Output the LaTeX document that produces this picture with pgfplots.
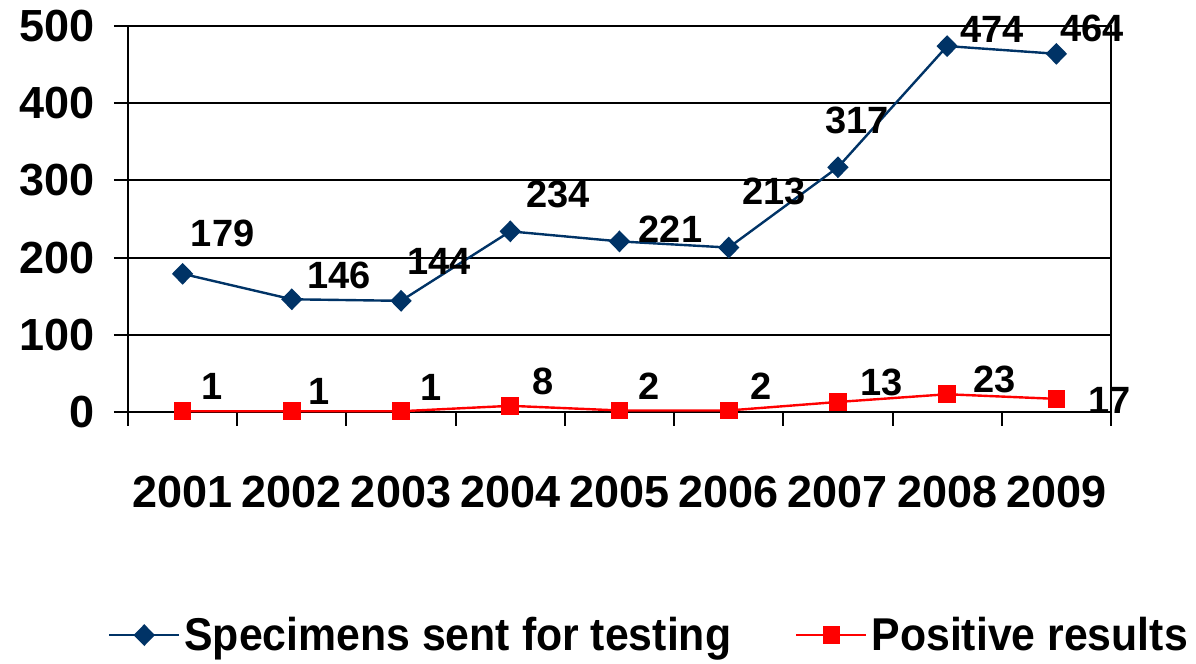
\documentclass[border=0pt]{standalone}
\usepackage{pgfplots}
\pgfplotsset{compat=1.18}
\usepackage{fontspec}
\setmainfont{Liberation Sans}
\newfontfamily\legfont[FakeStretch=0.93]{Liberation Sans}
\definecolor{navy}{HTML}{003366}
\definecolor{pred}{HTML}{FF0000}

\pgfplotstableread{
x y dx dy
1 179 20 20
2 146 23.5 12
3 144 19 19.5
4 234 24 18.5
5 221 25.5 6
6 213 22.5 28
7 317 9.5 23.5
8 474 22.5 8.5
9 464 18 12.5
}\spec
\pgfplotstableread{
x y dx dy
1 1 14.5 12.5
2 1 13.5 10
3 1 15 12
4 8 16.5 12
5 2 15 12
6 2 16 12
7 13 22 10
8 23 23.5 7.5
9 17 26.5 -1
}\posres

\begin{document}
\begin{tikzpicture}
\useasboundingbox (0,0) rectangle (598pt,332pt);
\begin{axis}[
  at={(64pt,126pt)}, anchor=south west,
  scale only axis, width=491.5pt, height=193pt,
  xmin=0.5, xmax=9.5, ymin=0, ymax=500,
  xtick={0.5,1.5,2.5,3.5,4.5,5.5,6.5,7.5,8.5,9.5},
  x tick label as interval,
  xticklabels={2001,2002,2003,2004,2005,2006,2007,2008,2009},
  ytick={0,100,200,300,400,500},
  ymajorgrids,
  major grid style={black, line width=1pt},
  axis line style={black, line width=1pt},
  tick style={black, line width=1pt},
  tick align=outside,
  major tick length=7pt,
  xtick pos=bottom, ytick pos=left,
  clip=false,
  /pgf/number format/assume math mode=true,
  tick label style={font=\bfseries\fontsize{22.5}{27}\selectfont},
  xticklabel style={yshift=-21.5pt},
  yticklabel style={xshift=-6pt},
  legend style={draw=none, at={(0.531,-0.578)}, anchor=center,
    legend columns=2, font=\legfont\bfseries\fontsize{23}{27}\selectfont,
    /tikz/every even column/.append style={column sep=30pt}},
  legend image code/.code={\draw[mark repeat=2, mark phase=2, #1] plot coordinates {(0pt,0pt) (17.5pt,0pt) (35pt,0pt)};},
  nodes near coords,
  point meta=y,
  visualization depends on={\thisrow{dx} \as \dx},
  visualization depends on={\thisrow{dy} \as \dy},
  every node near coord/.append style={font=\bfseries\fontsize{19}{22}\selectfont, text=black, anchor=center, xshift=\dx pt, yshift=\dy pt},
]
\addplot[navy, line width=1.2pt, mark=diamond*, mark size=4.6pt, mark options={xscale=1.3, solid}] table[x=x, y=y] {\spec};
\addlegendentry{Specimens sent for testing}
\addplot[pred, line width=1.2pt, mark=square*, mark size=3.8pt, mark options={solid}] table[x=x, y=y] {\posres};
\addlegendentry{Positive results}
\end{axis}
\end{tikzpicture}
\end{document}
